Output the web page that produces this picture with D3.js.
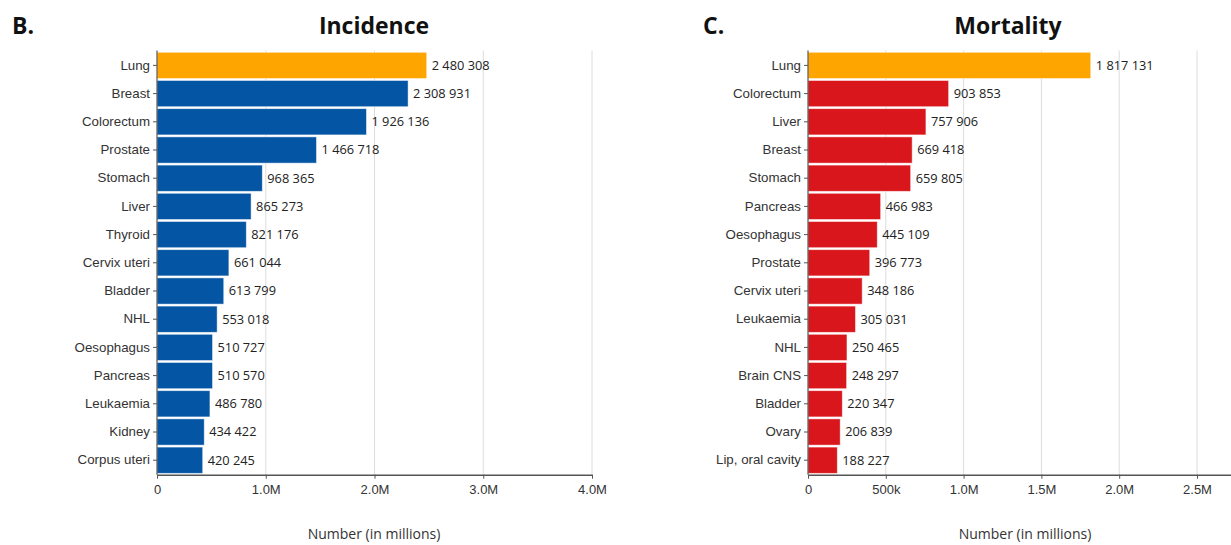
<!DOCTYPE html>
<html>
<head>
<meta charset="utf-8">
<script src="https://cdn.jsdelivr.net/npm/d3@7"></script>
<style>
  html, body { margin: 0; padding: 0; background: #fff; }
  svg { display: block; font-family: "Open Sans", "Noto Sans", sans-serif; }
</style>
</head>
<body>
<svg id="chart" width="1231" height="545"></svg>
<script>
// Incidence panel
const incidenceSites = ["Lung", "Breast", "Colorectum", "Prostate", "Stomach", "Liver", "Thyroid",
  "Cervix uteri", "Bladder", "NHL", "Oesophagus", "Pancreas", "Leukaemia", "Kidney", "Corpus uteri"];
const incidenceValues = [2480308, 2308931, 1926136, 1466718, 968365, 865273, 821176,
  661044, 613799, 553018, 510727, 510570, 486780, 434422, 420245];
const incidenceTicks = [0, 1000000, 2000000, 3000000, 4000000];

// Mortality panel
const mortalitySites = ["Lung", "Colorectum", "Liver", "Breast", "Stomach", "Pancreas", "Oesophagus",
  "Prostate", "Cervix uteri", "Leukaemia", "NHL", "Brain CNS", "Bladder", "Ovary", "Lip, oral cavity"];
const mortalityValues = [1817131, 903853, 757906, 669418, 659805, 466983, 445109,
  396773, 348186, 305031, 250465, 248297, 220347, 206839, 188227];
const mortalityTicks = [0, 500000, 1000000, 1500000, 2000000, 2500000];

const svg = d3.select("#chart");
const spaced = d3.formatLocale({ decimal: ".", thousands: "\u00a0", grouping: [3], currency: ["", ""] }).format(",");
const tickFmt = d => d === 0 ? "0" : d >= 1e6 ? (d / 1e6).toFixed(1) + "M" : (d / 1e3) + "k";

function panel(cfg) {
  const g = svg.append("g");
  const x = d3.scaleLinear().domain(cfg.domain).range([cfg.x0, cfg.x1]);
  const y = d3.scaleBand().domain(cfg.sites).range([51.3, 474.3]).paddingInner(0.07).paddingOuter(0.035);
  const axisY = 474.7;

  // vertical grid
  g.append("g").selectAll("line").data(cfg.ticks.filter(t => t > 0)).join("line")
    .attr("x1", d => x(d)).attr("x2", d => x(d))
    .attr("y1", 50.5).attr("y2", axisY)
    .attr("stroke", "#dcdcdc").attr("stroke-width", 1);

  // bars
  g.append("g").selectAll("rect").data(cfg.values).join("rect")
    .attr("x", x(0))
    .attr("y", (d, i) => y(cfg.sites[i]))
    .attr("width", d => x(d) - x(0))
    .attr("height", y.bandwidth())
    .attr("fill", (d, i) => i === 0 ? "#FFA500" : cfg.color)
    .attr("stroke", "rgba(255,255,255,0.6)").attr("stroke-width", 0.8);

  // value labels
  g.append("g").selectAll("text").data(cfg.values).join("text")
    .attr("x", d => x(d) + 5)
    .attr("y", (d, i) => y(cfg.sites[i]) + y.bandwidth() / 2)
    .attr("dy", "0.35em")
    .attr("font-size", 12.8).attr("fill", "#222")
    .text(d => spaced(d));

  // x axis
  const xa = g.append("g").attr("transform", `translate(0,${axisY})`)
    .call(d3.axisBottom(x).tickValues(cfg.ticks).tickFormat(tickFmt).tickSize(4).tickSizeOuter(0));
  xa.select(".domain").attr("stroke", "#555").attr("stroke-width", 1.4);
  xa.selectAll(".tick line").attr("stroke", "#555");
  xa.selectAll("text").attr("font-size", 13).attr("fill", "#333").attr("font-family", null).attr("dy", "0.95em");

  // y axis
  const ya = g.append("g").attr("transform", `translate(${x(0)},0)`)
    .call(d3.axisLeft(y).tickSize(4).tickSizeOuter(0));
  ya.select(".domain").attr("stroke", "#555").attr("stroke-width", 1.2)
    .attr("d", `M0,50.5V${axisY}`);
  ya.selectAll(".tick line").attr("stroke", "#555");
  ya.selectAll("text").attr("font-size", 13.3).attr("fill", "#333").attr("font-family", null).attr("x", -7);

  // titles
  g.append("text").attr("x", cfg.titleX).attr("y", 34).attr("text-anchor", "middle")
    .attr("font-size", 23).attr("font-weight", "bold").attr("fill", "#111").text(cfg.title);
  g.append("text").attr("x", cfg.letterX).attr("y", 34)
    .attr("font-size", 23).attr("font-weight", "bold").attr("fill", "#111").text(cfg.letter);
  g.append("text").attr("x", cfg.axisTitleX).attr("y", 539).attr("text-anchor", "middle")
    .attr("font-size", 14).attr("fill", "#333").text("Number (in millions)");
}

panel({
  sites: incidenceSites, values: incidenceValues, ticks: incidenceTicks,
  domain: [0, 4000000], x0: 157, x1: 592, color: "#0455A4",
  title: "Incidence", titleX: 374, letter: "B.", letterX: 12, axisTitleX: 374
});

panel({
  sites: mortalitySites, values: mortalityValues, ticks: mortalityTicks,
  domain: [0, 2800000], x0: 808, x1: 808 + 2.8 * 155.6, color: "#D9161B",
  title: "Mortality", titleX: 1008, letter: "C.", letterX: 703, axisTitleX: 1025
});
</script>
</body>
</html>
